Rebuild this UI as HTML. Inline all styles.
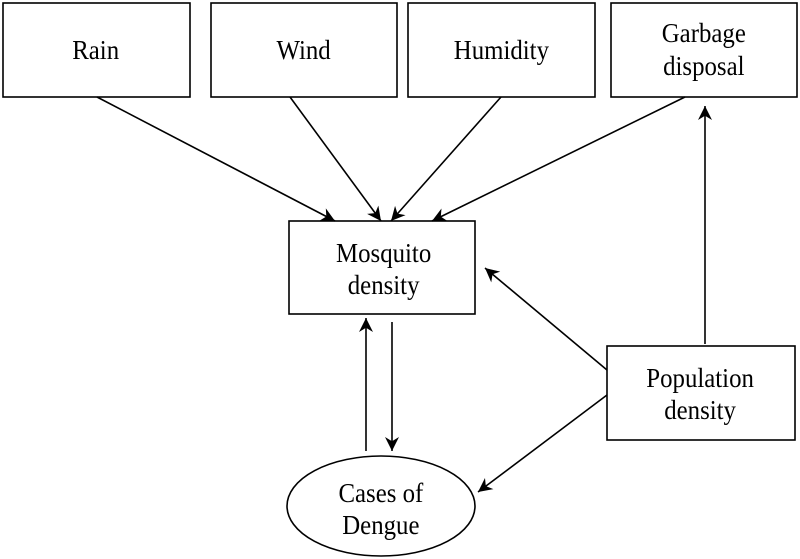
<!DOCTYPE html>
<html><head><style>body{margin:0;background:#fff}svg{display:block}</style></head><body>
<svg width="800" height="559" viewBox="0 0 800 559" xmlns="http://www.w3.org/2000/svg" font-family="Liberation Serif, serif" font-size="27" text-anchor="middle" fill="#000">
<defs><marker id="a" viewBox="0 0 10 10" refX="10" refY="5" markerWidth="15" markerHeight="14" markerUnits="userSpaceOnUse" orient="auto"><path d="M0,0 L10,5 L0,10 L3,5 z" fill="#000"/></marker></defs>
<g fill="none" stroke="#000" stroke-width="1.6">
<rect x="3" y="3" width="187" height="94"/>
<rect x="211" y="3" width="186" height="94"/>
<rect x="408" y="3" width="187" height="94"/>
<rect x="611" y="3" width="186" height="94"/>
<rect x="289" y="221" width="186" height="93"/>
<rect x="607" y="346" width="188" height="94"/>
<ellipse cx="381" cy="506" rx="94" ry="50"/>
</g>
<g stroke="#000" stroke-width="1.6" marker-end="url(#a)">
<line x1="97" y1="97" x2="335" y2="221"/>
<line x1="290" y1="97" x2="381" y2="221"/>
<line x1="501" y1="97" x2="391" y2="221"/>
<line x1="685" y1="97" x2="432" y2="221"/>
<line x1="705" y1="344" x2="705" y2="106"/>
<line x1="607" y1="370" x2="485" y2="268"/>
<line x1="607" y1="395" x2="478" y2="492"/>
<line x1="366" y1="451" x2="366" y2="318"/>
<line x1="392" y1="322" x2="392" y2="451"/>
</g>
<g stroke="none" transform="scale(0.92,1)">
<text x="104" y="59">Rain</text>
<text x="330" y="59">Wind</text>
<text x="545" y="59">Humidity</text>
<text x="765" y="42">Garbage</text>
<text x="765" y="75">disposal</text>
<text x="417" y="262">Mosquito</text>
<text x="417" y="294">density</text>
<text x="761" y="387">Population</text>
<text x="761" y="419">density</text>
<text x="414" y="502">Cases of</text>
<text x="414" y="534">Dengue</text>
</g>
</svg>
</body></html>
